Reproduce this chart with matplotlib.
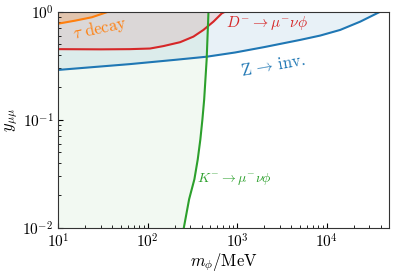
import numpy as np
import matplotlib
matplotlib.use("Agg")
import matplotlib.pyplot as plt

plt.rcParams['font.family'] = 'serif'
plt.rcParams['font.serif'] = ['cmr10', 'DejaVu Serif']
plt.rcParams['mathtext.fontset'] = 'cm'
plt.rcParams['axes.formatter.use_mathtext'] = True

# Z -> inv. bound
z_m = [10, 63, 200, 456, 946, 2000, 5050, 8450, 14150, 23700, 39700]
z_y = [0.289, 0.327, 0.358, 0.383, 0.419, 0.47, 0.548, 0.601, 0.678, 0.809, 1.0]
# D -> mu nu phi bound
d_m = [10, 30, 63.4, 106, 149, 230, 324, 419, 542, 673, 733]
d_y = [0.45, 0.448, 0.45, 0.456, 0.48, 0.522, 0.588, 0.678, 0.809, 0.966, 1.0]
# tau decay bound
t_m = [10, 15.4, 23.7, 36.2]
t_y = [0.775, 0.826, 0.888, 1.0]
# K -> mu nu phi bound
k_m = [253, 290, 332, 362, 387, 408, 427, 455, 477]
k_y = [0.01, 0.0184, 0.0281, 0.043, 0.0657, 0.1005, 0.154, 0.359, 1.0]

fig = plt.figure(figsize=(3.98, 2.75), dpi=100)
ax = fig.add_axes([0.1465, 0.172, 0.978 - 0.1465, 0.9575 - 0.172])
ax.set_xscale('log')
ax.set_yscale('log')
ax.set_xlim(10, 5e4)
ax.set_ylim(1e-2, 1)

top = 1.0
ax.fill_between(z_m, z_y, top, color='C0', alpha=0.1, lw=0)
ax.fill_betweenx(k_y, 10, k_m, color='C2', alpha=0.06, lw=0)
ax.fill_between(d_m, d_y, top, color='C3', alpha=0.1, lw=0)
ax.fill_between(t_m, t_y, top, color='C1', alpha=0.2, lw=0)

ax.plot(z_m, z_y, color='C0', lw=1.5)
ax.plot(d_m, d_y, color='C3', lw=1.5)
ax.plot(t_m, t_y, color='C1', lw=1.5)
ax.plot(k_m, k_y, color='C2', lw=1.5)

ax.text(29.3, 0.70, r'$\tau\ \mathrm{decay}$', color='C1', fontsize=12,
        rotation=12, ha='center', va='center')
ax.text(751, 0.787, r'$D^{-}\to\mu^{-}\nu\phi$', color='C3', fontsize=11,
        ha='left', va='center')
ax.text(2510, 0.32, r'$\mathrm{Z}\,\to\,\mathrm{inv.}$', color='C0', fontsize=12,
        rotation=10, ha='center', va='center')
ax.text(356, 0.0281, r'$K^{-}\to\mu^{-}\nu\phi$', color='C2', fontsize=10,
        ha='left', va='center')

ax.set_xlabel(r'$m_\phi/\mathrm{MeV}$', fontsize=12, labelpad=0)
ax.set_ylabel(r'$y_{\mu\mu}$', fontsize=12, labelpad=2)
ax.tick_params(which='both', direction='in')
ax.tick_params(labelsize=11)
for s in ax.spines.values():
    s.set_color('#333333')

fig.savefig('out.png', dpi=100)
